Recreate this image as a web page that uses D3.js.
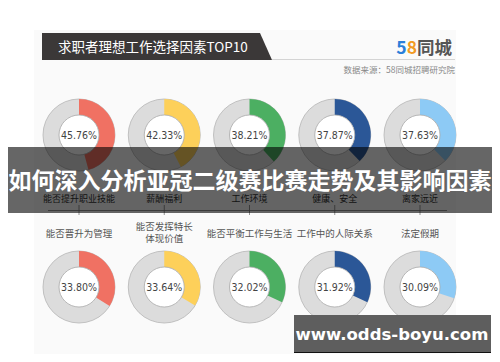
<!DOCTYPE html>
<meta charset="utf-8">
<style>
    body { margin: 0; background: #fff; }
    svg { display: block; }
</style>
<script src="https://d3js.org/d3.v7.min.js"></script>
<div id="chart"></div>
<script>
    // data
    var rowOneLabels = ["能否提升职业技能", "薪酬福利", "工作环境", "健康、安全", "离家远近"];
    var rowOneValues = [45.76, 42.33, 38.21, 37.87, 37.63];
    var rowTwoLabels = [["能否晋升为管理"], ["能否发挥特长", "体现价值"], ["能否平衡工作与生活"], ["工作中的人际关系"], ["法定假期"]];
    var rowTwoValues = [33.80, 33.64, 32.02, 31.92, 30.09];
    var colors = ["#f07163", "#fdd05a", "#4caf62", "#2b5797", "#8dcaf5"];

    var width = 500, height = 362;
    var cjk = "'Noto Sans CJK SC', 'Noto Sans', sans-serif";

    var svg = d3.select("#chart").append("svg")
        .attr("width", width)
        .attr("height", height);

    // background panel
    svg.append("rect").attr("x", 34).attr("y", 30).attr("width", 422).attr("height", 324)
        .attr("fill", "#fafafa");

    // header
    svg.append("path").attr("d", "M42,33 L260,33 L272,60 L42,60 Z").attr("fill", "#3b3838");
    svg.append("text").attr("x", 58).attr("y", 52)
        .attr("fill", "#fff").attr("font-size", 13.5).attr("font-family", cjk)
        .text("求职者理想工作选择因素TOP10");
    svg.append("line").attr("x1", 272).attr("x2", 455).attr("y1", 59.5).attr("y2", 59.5)
        .attr("stroke", "#d4d4d4");

    var logo = svg.append("text").attr("x", 452).attr("y", 54).attr("text-anchor", "end")
        .attr("font-size", 17.5).attr("font-weight", "bold").attr("font-family", cjk);
    logo.append("tspan").attr("fill", "#2a7fd9").text("5");
    logo.append("tspan").attr("fill", "#f29b22").text("8");
    logo.append("tspan").attr("fill", "#555").text("同城");

    svg.append("text").attr("x", 455).attr("y", 73).attr("text-anchor", "end")
        .attr("fill", "#888").attr("font-size", 8.5).attr("font-family", cjk)
        .text("数据来源：58同城招聘研究院");

    // scales
    var x = d3.scalePoint().domain(d3.range(5)).range([79, 420]);
    var angle = d3.scaleLinear().domain([0, 100]).range([0, 2 * Math.PI]);
    var outerR = 36, innerR = 20;
    var arc = d3.arc().innerRadius(innerR).outerRadius(outerR);

    function drawRow(values, cy) {
        var g = svg.append("g").selectAll("g").data(values).enter().append("g")
            .attr("transform", function (d, i) { return "translate(" + x(i) + "," + cy + ")"; });
        g.append("circle").attr("r", outerR).attr("fill", "#dcdcdc")
            .attr("stroke", "#b5b5b5").attr("stroke-width", 0.8);
        g.append("path")
            .attr("d", function (d) { return arc({startAngle: 0, endAngle: angle(d)}); })
            .attr("fill", function (d, i) { return colors[i]; });
        g.append("circle").attr("r", innerR).attr("fill", "#fff")
            .attr("stroke", "#a8a8a8").attr("stroke-width", 0.8);
        g.append("text").attr("text-anchor", "middle").attr("dy", "0.36em")
            .attr("fill", "#444").attr("font-size", 10.5)
            .attr("font-family", "'Liberation Sans Narrow', 'DejaVu Sans Condensed', sans-serif")
            .style("font-stretch", "condensed")
            .text(function (d) { return d.toFixed(2) + "%"; });
    }

    drawRow(rowOneValues, 135);
    drawRow(rowTwoValues, 287);

    // row one labels (mostly hidden under the banner)
    svg.append("g").selectAll("text").data(rowOneLabels).enter().append("text")
        .attr("x", function (d, i) { return x(i); }).attr("y", 202)
        .attr("text-anchor", "middle").attr("fill", "#333").attr("font-size", 9)
        .attr("font-family", cjk).text(function (d) { return d; });

    // axis line with ticks
    svg.append("line").attr("x1", 48).attr("x2", 447).attr("y1", 210.5).attr("y2", 210.5)
        .attr("stroke", "#777").attr("stroke-width", 0.8);
    svg.append("g").selectAll("line").data(d3.range(5)).enter().append("line")
        .attr("x1", function (d) { return x(d); }).attr("x2", function (d) { return x(d); })
        .attr("y1", 205).attr("y2", 215).attr("stroke", "#777").attr("stroke-width", 0.8);

    // row two labels
    var lab = svg.append("g").selectAll("text").data(rowTwoLabels).enter().append("text")
        .attr("x", function (d, i) { return x(i); })
        .attr("y", function (d) { return d.length > 1 ? 230 : 237; })
        .attr("text-anchor", "middle").attr("fill", "#555").attr("font-size", 9.5)
        .attr("font-family", cjk);
    lab.selectAll("tspan").data(function (d) { return d; }).enter().append("tspan")
        .attr("x", function () { return d3.select(this.parentNode).attr("x"); })
        .attr("dy", function (d, i) { return i ? 12 : 0; })
        .text(function (d) { return d; });

    // banner overlay
    svg.append("rect").attr("x", 8).attr("y", 147).attr("width", 484).attr("height", 66)
        .attr("fill", "rgba(0,0,0,0.6)");
    svg.append("text").attr("x", 250).attr("y", 189).attr("text-anchor", "middle")
        .attr("fill", "#fff").attr("font-size", 23).attr("font-weight", "bold")
        .attr("font-family", cjk)
        .text("如何深入分析亚冠二级赛比赛走势及其影响因素");

    // watermark box
    svg.append("rect").attr("x", 294).attr("y", 315).attr("width", 197).attr("height", 37)
        .attr("fill", "#5e5e5e");
    svg.append("line").attr("x1", 294).attr("x2", 491).attr("y1", 352.5).attr("y2", 352.5)
        .attr("stroke", "#111").attr("stroke-width", 1.2);
    svg.append("text").attr("x", 392).attr("y", 340).attr("text-anchor", "middle")
        .attr("fill", "#fff").attr("font-size", 16.5).attr("font-weight", "bold")
        .attr("font-family", "'DejaVu Sans', sans-serif")
        .text("www.odds-boyu.com");
</script>
